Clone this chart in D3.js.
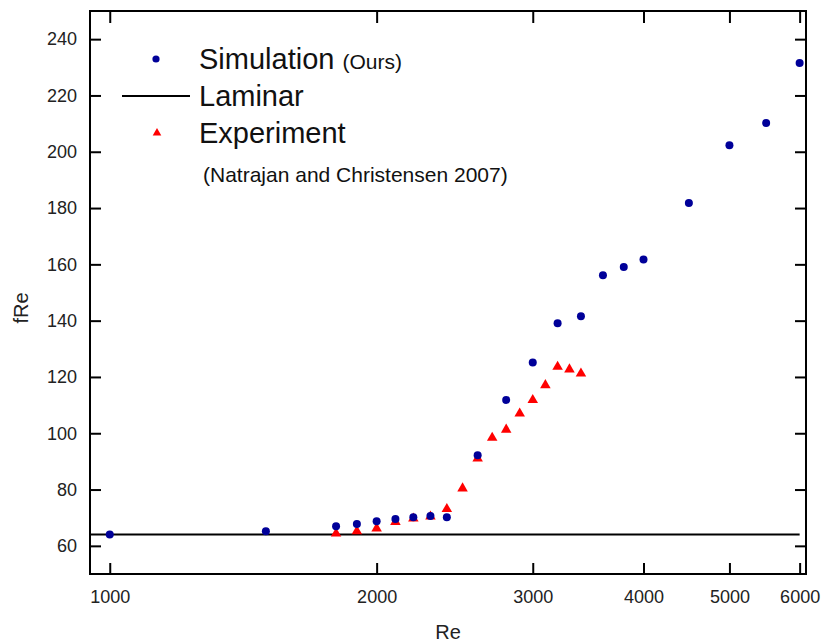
<!DOCTYPE html>
<html>
<head>
<meta charset="utf-8">
<script src="https://cdn.jsdelivr.net/npm/d3@7"></script>
<style>
  html, body { margin: 0; padding: 0; background: #fff; }
  svg { display: block; font-family: Arial, "Liberation Sans", sans-serif; }
</style>
</head>
<body>
<svg id="chart" width="821" height="642"></svg>
<script>
// ---- data ----
const simRe   = [1000, 1500, 1800, 1900, 2000, 2100, 2200, 2300, 2400, 2600, 2800, 3000, 3200, 3400, 3600, 3800, 4000, 4500, 5000, 5500, 6000];
const simFRe  = [64.0, 65.2, 67.0, 67.8, 68.7, 69.5, 70.2, 70.6, 70.2, 92.2, 111.8, 125.1, 139.1, 141.6, 156.1, 159.1, 161.7, 181.8, 202.3, 210.2, 231.5];
const expRe   = [1800, 1900, 2000, 2100, 2200, 2300, 2400, 2500, 2600, 2700, 2800, 2900, 3000, 3100, 3200, 3300, 3400];
const expFRe  = [64.4, 65.2, 66.2, 68.5, 69.7, 70.4, 73.1, 80.4, 91.0, 98.4, 101.3, 107.0, 111.8, 117.1, 123.6, 122.7, 121.2];
const laminarRe  = [950, 6000];
const laminarFRe = [64, 64];
const xTicks = [1000, 2000, 3000, 4000, 5000, 6000];
const yTicks = [60, 80, 100, 120, 140, 160, 180, 200, 220, 240];
const legendLabels = ["Simulation", "Laminar", "Experiment"];
const legendNotes = ["(Ours)", "(Natrajan and Christensen 2007)"];

// ---- layout ----
const svg = d3.select("#chart");
const L = 90, T = 11, R = 806, B = 574;
const x = d3.scaleLog().domain([950, 6100]).range([L, R]);
const y = d3.scaleLinear().domain([50, 250]).range([B, T]);
const blue = "#000099", red = "#ff0000";

// laminar line
svg.append("path")
  .datum(laminarRe.map((r, i) => [r, laminarFRe[i]]))
  .attr("d", d3.line().x(d => x(d[0])).y(d => y(d[1])))
  .attr("stroke", "#000").attr("stroke-width", 2).attr("fill", "none");

// experiment triangles
const tri = d3.symbol().type(d3.symbolTriangle).size(48);
svg.append("g").selectAll("path")
  .data(expRe.map((r, i) => [r, expFRe[i]]))
  .join("path")
  .attr("d", tri)
  .attr("transform", d => `translate(${x(d[0])},${y(d[1])})`)
  .attr("fill", red);

// simulation dots
svg.append("g").selectAll("circle")
  .data(simRe.map((r, i) => [r, simFRe[i]]))
  .join("circle")
  .attr("cx", d => x(d[0])).attr("cy", d => y(d[1]))
  .attr("r", 4).attr("fill", blue);

// axes (ticks inward, mirrored)
const tickLen = 11;
const fmt = d3.format("d");
const axB = svg.append("g").attr("transform", `translate(0,${B})`)
  .call(d3.axisBottom(x).tickValues(xTicks).tickFormat(fmt).tickSizeInner(-tickLen).tickSizeOuter(0).tickPadding(16));
const axT = svg.append("g").attr("transform", `translate(0,${T})`)
  .call(d3.axisTop(x).tickValues(xTicks).tickFormat("").tickSizeInner(-tickLen - 1).tickSizeOuter(0));
const axL = svg.append("g").attr("transform", `translate(${L},0)`)
  .call(d3.axisLeft(y).tickValues(yTicks).tickFormat(fmt).tickSizeInner(-tickLen).tickSizeOuter(0).tickPadding(13));
const axR = svg.append("g").attr("transform", `translate(${R},0)`)
  .call(d3.axisRight(y).tickValues(yTicks).tickFormat("").tickSizeInner(-tickLen).tickSizeOuter(0));
[axB, axT, axL, axR].forEach(a => {
  a.select(".domain").remove();
  a.selectAll(".tick line").attr("stroke", "#000").attr("stroke-width", 2);
  a.selectAll(".tick text").attr("font-size", 18).attr("fill", "#222").attr("font-family", "Arial, 'Liberation Sans', sans-serif");
});

// frame
svg.append("rect").attr("x", L).attr("y", T).attr("width", R - L).attr("height", B - T)
  .attr("fill", "none").attr("stroke", "#000").attr("stroke-width", 2);

// axis titles
svg.append("text").attr("x", 448).attr("y", 639).attr("text-anchor", "middle")
  .attr("font-size", 20).attr("fill", "#222").text("Re");
svg.append("text").attr("transform", "translate(28,308) rotate(-90)").attr("text-anchor", "middle")
  .attr("font-size", 20).attr("fill", "#222").text("fRe");

// legend
const lg = svg.append("g");
lg.append("circle").attr("cx", 156).attr("cy", 59).attr("r", 3.6).attr("fill", blue);
lg.append("line").attr("x1", 122).attr("x2", 190).attr("y1", 96).attr("y2", 96).attr("stroke", "#000").attr("stroke-width", 2);
lg.append("path").attr("d", d3.symbol().type(d3.symbolTriangle).size(32)).attr("transform", "translate(157,133)").attr("fill", red);
const lt = lg.append("text").attr("x", 199).attr("y", 69).attr("font-size", 29).attr("fill", "#111");
lt.append("tspan").text(legendLabels[0]);
lt.append("tspan").attr("font-size", 21).attr("dx", 8).text(legendNotes[0]);
lg.append("text").attr("x", 199).attr("y", 106).attr("font-size", 29).attr("fill", "#111").text(legendLabels[1]);
lg.append("text").attr("x", 199).attr("y", 143).attr("font-size", 29).attr("fill", "#111").text(legendLabels[2]);
lg.append("text").attr("x", 203).attr("y", 182).attr("font-size", 21).attr("fill", "#111").text(legendNotes[1]);
</script>
</body>
</html>
